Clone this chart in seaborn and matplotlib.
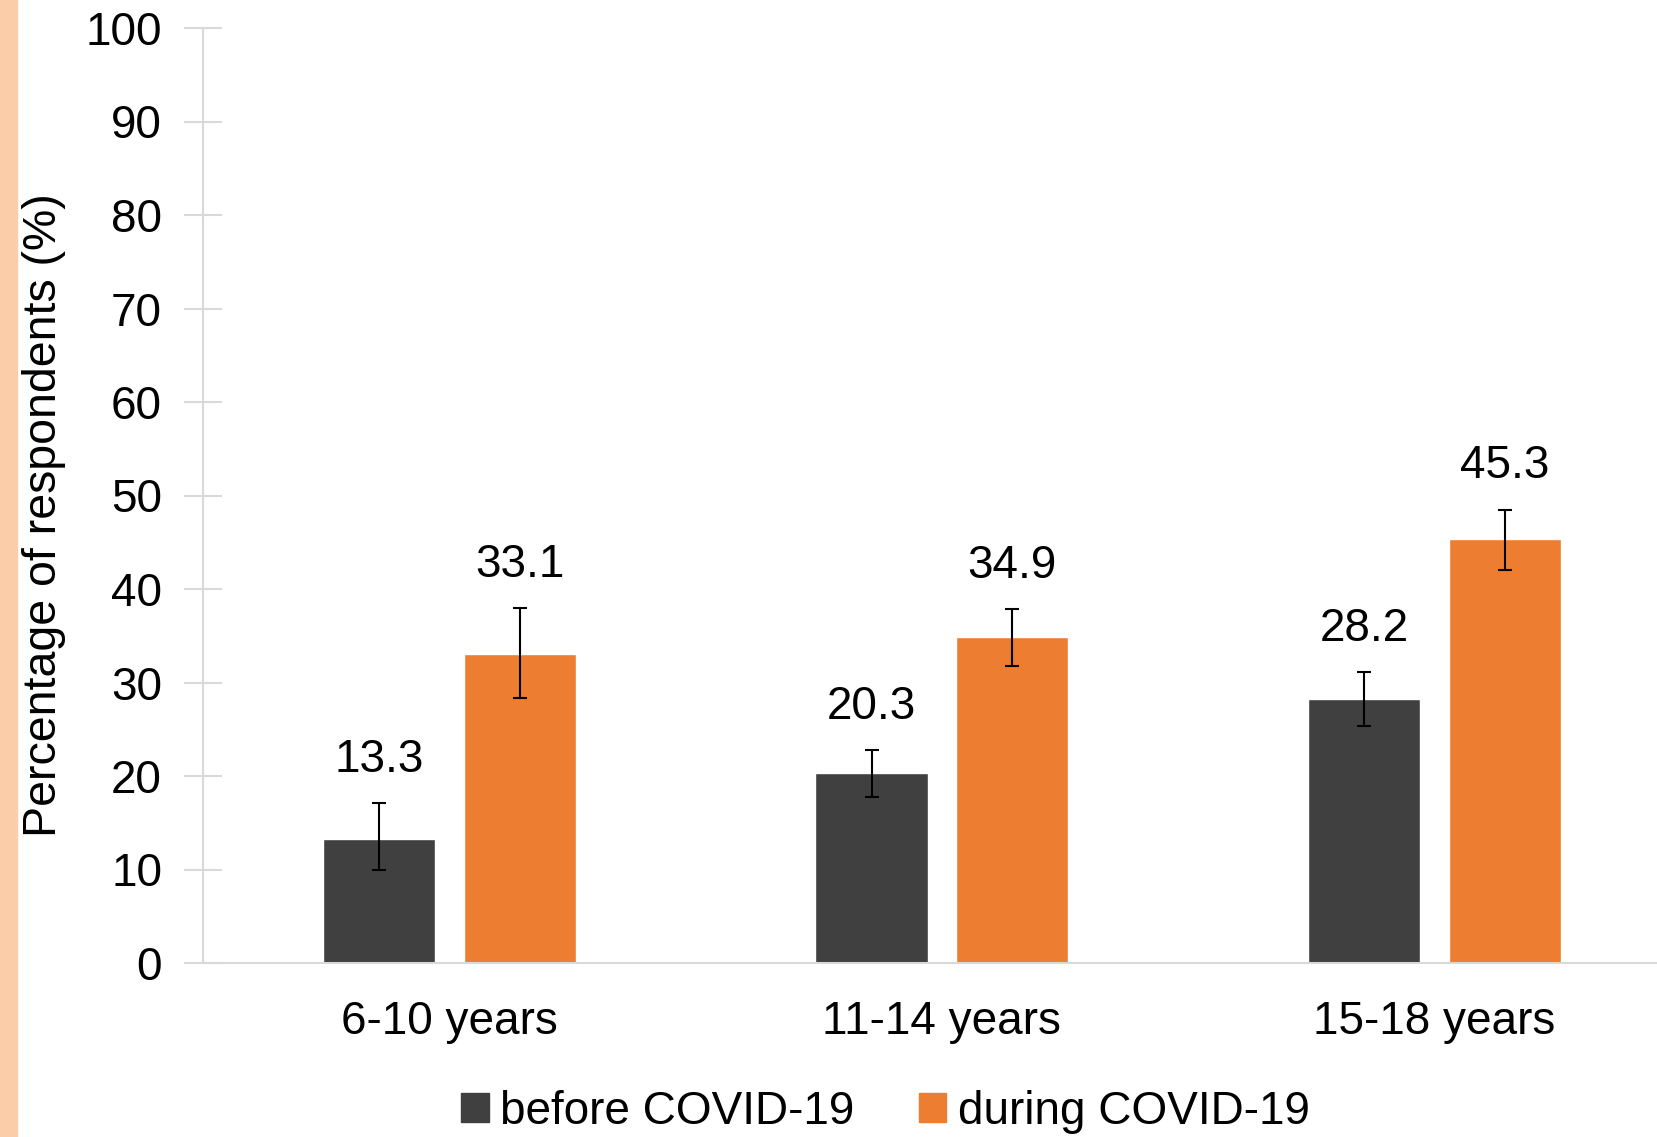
import matplotlib
matplotlib.use("Agg")
import matplotlib.pyplot as plt
import seaborn as sns
import pandas as pd
import numpy as np
from matplotlib.patches import Rectangle

categories = ["6-10 years", "11-14 years", "15-18 years"]
periods = ["before COVID-19", "during COVID-19"]
before_vals = [13.3, 20.3, 28.2]
during_vals = [33.1, 34.9, 45.3]
before_low = [10.0, 17.8, 25.3]
before_high = [17.1, 22.8, 31.1]
during_low = [28.3, 31.8, 42.0]
during_high = [38.0, 37.9, 48.5]
yticks = [0, 10, 20, 30, 40, 50, 60, 70, 80, 90, 100]

colors = ["#404040", "#ED7D31"]

sns.set_theme(style="white")
plt.rcParams["font.family"] = ["Liberation Sans", "DejaVu Sans"]
plt.rcParams["text.color"] = "black"
plt.rcParams["axes.labelcolor"] = "black"

df = pd.DataFrame({
    "age": categories * 2,
    "period": [periods[0]] * 3 + [periods[1]] * 3,
    "value": before_vals + during_vals,
})

fig = plt.figure(figsize=(16.58, 11.37), dpi=100)
ax = fig.add_axes([203 / 1658, 1 - 963 / 1137, 1 - 203 / 1658, (963 - 28) / 1137])

sns.barplot(data=df, x="age", y="value", hue="period", order=categories,
            hue_order=periods, palette=colors, width=0.571, gap=0.203,
            errorbar=None, ax=ax, saturation=1)

ax.set_ylim(0, 100)
ax.set_xlim(-0.5, 2.454)
ax.set_yticks(yticks)
ax.tick_params(axis="y", left=True, labelsize=33, length=27, direction="inout",
               color="#d9d9d9", labelcolor="black", width=1.5, pad=16)
ax.tick_params(axis="x", bottom=False, labelsize=33, length=0, pad=27, labelcolor="black")
ax.set_xlabel("")
ax.set_ylabel("Percentage of respondents (%)", fontsize=33.5)
ax.yaxis.set_label_coords(-0.0945, 0.479)
for s in ["top", "right"]:
    ax.spines[s].set_visible(False)
for s in ["left", "bottom"]:
    ax.spines[s].set_color("#d9d9d9")
    ax.spines[s].set_linewidth(1.5)

# error bars and value labels
vals_all = [before_vals, during_vals]
lows = [before_low, during_low]
highs = [before_high, during_high]
n = len(categories)
bars = [p for p in ax.patches if p.get_height() > 0][:2 * n]
for i, p in enumerate(bars):
    s, c = divmod(i, n)
    v = vals_all[s][c]
    xc = p.get_x() + p.get_width() / 2
    ax.errorbar(xc, v, yerr=[[v - lows[s][c]], [highs[s][c] - v]], fmt="none",
                ecolor="black", elinewidth=1.5, capsize=5, capthick=1.5, zorder=5)
    ax.annotate(f"{v:.1f}", (xc, highs[s][c]), xytext=(0, 31), textcoords="offset points",
                ha="center", va="center", fontsize=33, color="black")

# legend
ax.legend_.remove()
handles = [Rectangle((0, 0), 1, 1, color=c) for c in colors]
fig.legend(handles, periods, loc="center", bbox_to_anchor=(0.534, 0.022), ncol=2,
           frameon=False, fontsize=33, handlelength=0.6, handleheight=0.6,
           handletextpad=0.25, columnspacing=1.4)

# decorative left strip
fig.patches.append(Rectangle((0, 0), 17 / 1658, 1, transform=fig.transFigure,
                             color="#FBCDA8", zorder=0))

fig.savefig("out.png", dpi=100)
